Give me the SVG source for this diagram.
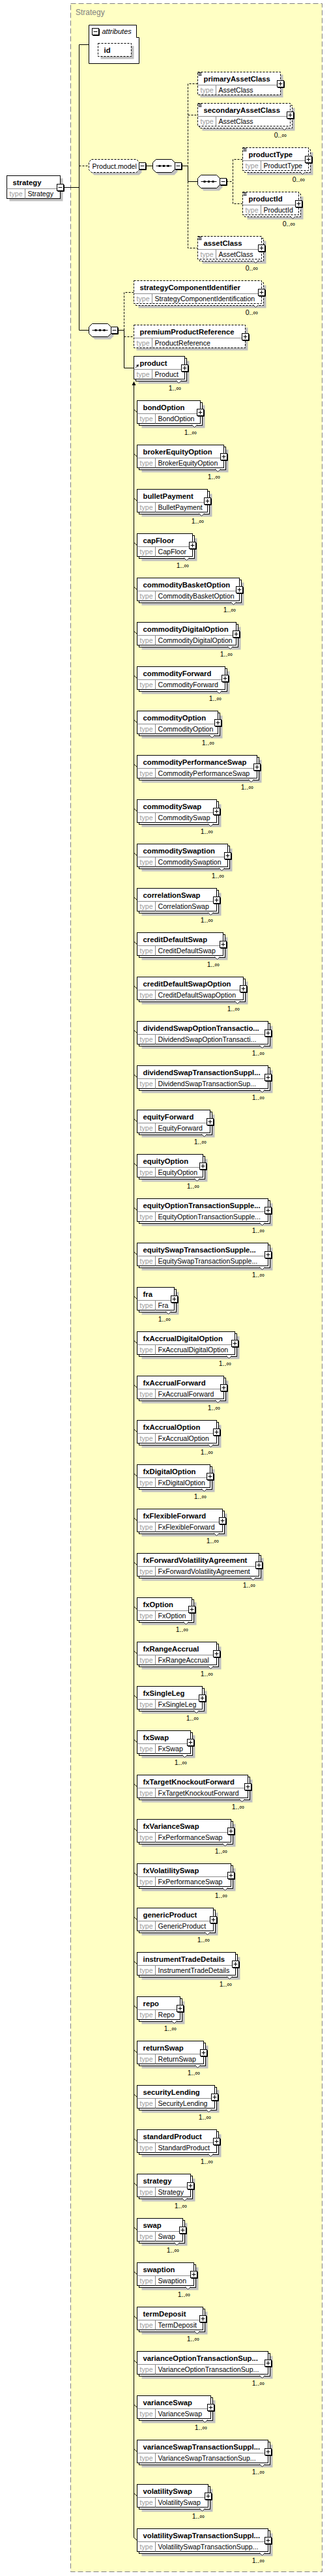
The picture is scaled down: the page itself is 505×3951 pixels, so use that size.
<svg xmlns="http://www.w3.org/2000/svg" xmlns:xlink="http://www.w3.org/1999/xlink" width="505" height="3951" viewBox="0 0 505 3951">
<style>
.bg{fill:#FFFFC4;stroke:#808080;stroke-dasharray:8,4}
.b{fill:#fff;stroke:#000}
.d{fill:#fff;stroke:#000;stroke-dasharray:3,2}
.sh{fill:#C0C0C0}
.dv{stroke:#8c8c8c;fill:none}
.ln{stroke:#000;fill:none}
.ds{stroke:#000;fill:none;stroke-dasharray:3,2}
.ic{stroke:#000;fill:none}
.v{fill:#fff;stroke:#333}
text{font-family:"Liberation Sans",Arial,sans-serif}
.n{font-weight:bold;font-size:11.3px;fill:#000}
.t{font-size:10.6px;fill:#000}
.tl{font-size:10.6px;fill:#999}
.m{font-size:10.6px;fill:#000;text-anchor:end}
.ttl{font-size:12px;fill:#808080}
.at{font-size:11px;font-style:italic;fill:#000}
</style>
<defs>
<g id="minus"><rect width="10" height="10" fill="#fff" stroke="#000"/><path d="M11,1V11H1M2,5H8" stroke="#000" fill="none"/></g>
<g id="plus"><rect width="10" height="10" fill="#fff" stroke="#000"/><path d="M11,1V11H1M2,5H8M5,2V8" stroke="#000" fill="none"/></g>
<g id="seqdots"><path d="M5,10H29" stroke="#000"/><rect x="9" y="8.5" width="3" height="3" fill="#000"/><rect x="15.5" y="8.5" width="3" height="3" fill="#000"/><rect x="22" y="8.5" width="3" height="3" fill="#000"/></g>
</defs>
<rect id="complexType" class="bg" x="108.5" y="5.5" width="386" height="3939"/>
<text class="ttl" x="116" y="23">Strategy</text>

<g id="connectors">
<path class="ln" d="M97.5,287.5H121.5M121.5,68.5V506.5M121.5,68.5H136.5M121.5,506.5H136.5"/>
<path class="ds" d="M121.5,254.5H136.5"/>
<path class="ln" d="M223.5,254.5H234.5M278.5,254.5H288.5V278.5H303.5"/>
<path class="ds" d="M303.5,128.5H288.5V254.5M288.5,278.5V380.5H303.5M288.5,176.5H303.5"/>
<path class="ds" d="M347.5,278.5H357.5M372.5,244.5H357.5V312.5H372.5"/>
<path class="ln" d="M180.5,506.5H190.5V564.5H205.5"/>
<path class="ds" d="M205.5,448.5H190.5V506.5M190.5,516.5H205.5"/>
<path class="ln" d="M205.5,590V3892.5"/>
<path d="M205.5,585L202.5,591H208.5Z" fill="#000"/>
<path class="ln" d="M206,628.5l4.5,4m-4.5,64l4.5,4m-4.5,64l4.5,4m-4.5,64l4.5,4m-4.5,64l4.5,4m-4.5,64l4.5,4m-4.5,64l4.5,4m-4.5,64l4.5,4m-4.5,64l4.5,4m-4.5,64l4.5,4m-4.5,64l4.5,4m-4.5,64l4.5,4m-4.5,64l4.5,4m-4.5,64l4.5,4m-4.5,64l4.5,4m-4.5,64l4.5,4m-4.5,64l4.5,4m-4.5,64l4.5,4m-4.5,64l4.5,4m-4.5,64l4.5,4m-4.5,64l4.5,4m-4.5,64l4.5,4m-4.5,64l4.5,4m-4.5,64l4.5,4m-4.5,64l4.5,4m-4.5,64l4.5,4m-4.5,64l4.5,4m-4.5,64l4.5,4m-4.5,64l4.5,4m-4.5,64l4.5,4m-4.5,64l4.5,4m-4.5,64l4.5,4m-4.5,64l4.5,4m-4.5,64l4.5,4m-4.5,64l4.5,4m-4.5,64l4.5,4m-4.5,64l4.5,4m-4.5,64l4.5,4m-4.5,64l4.5,4m-4.5,64l4.5,4m-4.5,64l4.5,4m-4.5,64l4.5,4m-4.5,64l4.5,4m-4.5,64l4.5,4m-4.5,64l4.5,4m-4.5,64l4.5,4m-4.5,64l4.5,4m-4.5,64l4.5,4m-4.5,64l4.5,4"/>
</g>

<g id="root-strategy" transform="translate(10.5,269.5)"><rect class="sh" x="4" y="4" width="82" height="35"/><rect class="b" width="82" height="35"/><path class="dv" d="M0,20H82M28,20V35"/><text class="n" x="9" y="14">strategy</text><text class="tl" x="4" y="31.5">type</text><text class="t" x="32" y="31.5">Strategy</text><use href="#minus" x="77" y="13"/></g>

<g id="attributes"><path class="b" d="M136.5,38.5H209.5V57.5H213.5V97.5H136.5Z"/><use href="#minus" x="141.5" y="43.5"/><text class="at" x="156.5" y="52">attributes</text>
<rect class="sh" x="154.5" y="70.5" width="51" height="20"/><rect class="d" x="150.5" y="66.5" width="51" height="20"/><text class="n" x="159.5" y="80.5">id</text></g>

<g id="group-Product.model"><path class="sh" d="M144.5,248.5H213.5L217.5,252.5V264.5L213.5,268.5H144.5L140.5,264.5V252.5Z"/><path class="d" d="M140.5,244.5H209.5L213.5,248.5V260.5L209.5,264.5H140.5L136.5,260.5V248.5Z"/><text class="t" x="141.5" y="258.5">Product.model</text><use href="#minus" x="213.5" y="249.5"/></g>

<g id="sequence-1"><path class="sh" d="M243.5,248.5H267.5L272.5,253.5V263.5L267.5,268.5H243.5L238.5,263.5V253.5Z"/><path class="b" d="M239.5,244.5H263.5L268.5,249.5V259.5L263.5,264.5H239.5L234.5,259.5V249.5Z"/><use href="#seqdots" x="234.5" y="244.5"/><use href="#minus" x="268.5" y="249.5"/></g>
<g id="sequence-2"><path class="sh" d="M312.5,272.5H336.5L341.5,277.5V287.5L336.5,292.5H312.5L307.5,287.5V277.5Z"/><path class="b" d="M308.5,268.5H332.5L337.5,273.5V283.5L332.5,288.5H308.5L303.5,283.5V273.5Z"/><use href="#seqdots" x="303.5" y="268.5"/><use href="#minus" x="337.5" y="273.5"/></g>
<g id="sequence-3"><path class="sh" d="M145.5,500.5H169.5L174.5,505.5V515.5L169.5,520.5H145.5L140.5,515.5V505.5Z"/><path class="b" d="M141.5,496.5H165.5L170.5,501.5V511.5L165.5,516.5H141.5L136.5,511.5V501.5Z"/><use href="#seqdots" x="136.5" y="496.5"/><use href="#minus" x="170.5" y="501.5"/></g>

<g id="primaryAssetClass" transform="translate(303.5,110.5)"><rect class="sh" x="4" y="4" width="127" height="35"/><rect class="d" width="127" height="35"/><path class="dv" d="M0,20H127M28,20V35"/><path class="ic" d="M1,1h5M1,3h5M1,5h5"/><text class="n" x="9" y="14">primaryAssetClass</text><text class="tl" x="4" y="31.5">type</text><text class="t" x="32" y="31.5">AssetClass</text><use href="#plus" x="122" y="13"/></g>
<g id="secondaryAssetClass" transform="translate(303.5,158.5)"><rect class="sh" x="7" y="7" width="142" height="35"/><rect class="d" x="3" y="3" width="142" height="35"/><rect class="d" width="142" height="35"/><path class="dv" d="M0,20H142M28,20V35"/><path class="ic" d="M1,1h5M1,3h5M1,5h5"/><text class="n" x="9" y="14">secondaryAssetClass</text><text class="tl" x="4" y="31.5">type</text><text class="t" x="32" y="31.5">AssetClass</text><use href="#plus" x="137" y="13"/><path class="v" d="M129,37l4,4l4,-4"/><text class="m" x="136.5" y="52">0..∞</text></g>
<g id="productType" transform="translate(372.5,226.5)"><rect class="sh" x="7" y="7" width="101" height="35"/><rect class="d" x="3" y="3" width="101" height="35"/><rect class="d" width="101" height="35"/><path class="dv" d="M0,20H101M28,20V35"/><path class="ic" d="M1,1h5M1,3h5M1,5h5"/><text class="n" x="9" y="14">productType</text><text class="tl" x="4" y="31.5">type</text><text class="t" x="32" y="31.5">ProductType</text><use href="#plus" x="96" y="13"/><path class="v" d="M88,37l4,4l4,-4"/><text class="m" x="95.5" y="52">0..∞</text></g>
<g id="productId" transform="translate(372.5,294.5)"><rect class="sh" x="7" y="7" width="86" height="35"/><rect class="d" x="3" y="3" width="86" height="35"/><rect class="d" width="86" height="35"/><path class="dv" d="M0,20H86M28,20V35"/><path class="ic" d="M1,1h5M1,3h5M1,5h5"/><text class="n" x="9" y="14">productId</text><text class="tl" x="4" y="31.5">type</text><text class="t" x="32" y="31.5">ProductId</text><use href="#plus" x="81" y="13"/><path class="v" d="M73,37l4,4l4,-4"/><text class="m" x="80.5" y="52">0..∞</text></g>
<g id="assetClass" transform="translate(303.5,362.5)"><rect class="sh" x="7" y="7" width="98" height="35"/><rect class="d" x="3" y="3" width="98" height="35"/><rect class="d" width="98" height="35"/><path class="dv" d="M0,20H98M28,20V35"/><path class="ic" d="M1,1h5M1,3h5M1,5h5"/><text class="n" x="9" y="14">assetClass</text><text class="tl" x="4" y="31.5">type</text><text class="t" x="32" y="31.5">AssetClass</text><use href="#plus" x="93" y="13"/><path class="v" d="M85,37l4,4l4,-4"/><text class="m" x="92.5" y="52">0..∞</text></g>
<g id="strategyComponentIdentifier" transform="translate(205.5,430.5)"><rect class="sh" x="7" y="7" width="196" height="35"/><rect class="d" x="3" y="3" width="196" height="35"/><rect class="d" width="196" height="35"/><path class="dv" d="M0,20H196M28,20V35"/><text class="n" x="9" y="14">strategyComponentIdentifier</text><text class="tl" x="4" y="31.5">type</text><text class="t" x="32" y="31.5">StrategyComponentIdentification</text><use href="#plus" x="191" y="13"/><path class="v" d="M183,37l4,4l4,-4"/><text class="m" x="190.5" y="52">0..∞</text></g>
<g id="premiumProductReference" transform="translate(205.5,498.5)"><rect class="sh" x="4" y="4" width="171" height="35"/><rect class="d" width="171" height="35"/><path class="dv" d="M0,20H171M28,20V35"/><text class="n" x="9" y="14">premiumProductReference</text><text class="tl" x="4" y="31.5">type</text><text class="t" x="32" y="31.5">ProductReference</text><use href="#plus" x="166" y="13"/></g>
<g id="product" transform="translate(205.5,546.5)"><rect class="sh" x="7" y="7" width="78" height="35"/><rect class="b" x="3" y="3" width="78" height="35"/><rect class="b" width="78" height="35"/><path class="dv" d="M0,20H78M28,20V35"/><path d="M2.5,17.5L5.5,14.5" stroke="#000"/><path d="M7.5,12.5L3.5,13.5L6.5,16.5Z" fill="#000"/><text class="n" x="9" y="14">product</text><text class="tl" x="4" y="31.5">type</text><text class="t" x="32" y="31.5">Product</text><use href="#plus" x="73" y="13"/><path class="v" d="M65,37l4,4l4,-4"/><text class="m" x="72.5" y="52">1..∞</text></g>

<g id="bondOption" transform="translate(210.5,614.5)"><rect class="sh" x="7" y="7" width="97" height="35"/><rect class="b" x="3" y="3" width="97" height="35"/><rect class="b" width="97" height="35"/><path class="dv" d="M0,20H97M28,20V35"/><text class="n" x="9" y="14">bondOption</text><text class="tl" x="4" y="31.5">type</text><text class="t" x="32" y="31.5">BondOption</text><use href="#plus" x="92" y="13"/><path class="v" d="M84,37l4,4l4,-4"/><text class="m" x="91.5" y="52">1..∞</text></g>
<g id="brokerEquityOption" transform="translate(210.5,682.5)"><rect class="sh" x="7" y="7" width="133" height="35"/><rect class="b" x="3" y="3" width="133" height="35"/><rect class="b" width="133" height="35"/><path class="dv" d="M0,20H133M28,20V35"/><text class="n" x="9" y="14">brokerEquityOption</text><text class="tl" x="4" y="31.5">type</text><text class="t" x="32" y="31.5">BrokerEquityOption</text><use href="#plus" x="128" y="13"/><path class="v" d="M120,37l4,4l4,-4"/><text class="m" x="127.5" y="52">1..∞</text></g>
<g id="bulletPayment" transform="translate(210.5,750.5)"><rect class="sh" x="7" y="7" width="108" height="35"/><rect class="b" x="3" y="3" width="108" height="35"/><rect class="b" width="108" height="35"/><path class="dv" d="M0,20H108M28,20V35"/><text class="n" x="9" y="14">bulletPayment</text><text class="tl" x="4" y="31.5">type</text><text class="t" x="32" y="31.5">BulletPayment</text><use href="#plus" x="103" y="13"/><path class="v" d="M95,37l4,4l4,-4"/><text class="m" x="102.5" y="52">1..∞</text></g>
<g id="capFloor" transform="translate(210.5,818.5)"><rect class="sh" x="7" y="7" width="85" height="35"/><rect class="b" x="3" y="3" width="85" height="35"/><rect class="b" width="85" height="35"/><path class="dv" d="M0,20H85M28,20V35"/><text class="n" x="9" y="14">capFloor</text><text class="tl" x="4" y="31.5">type</text><text class="t" x="32" y="31.5">CapFloor</text><use href="#plus" x="80" y="13"/><path class="v" d="M72,37l4,4l4,-4"/><text class="m" x="79.5" y="52">1..∞</text></g>
<g id="commodityBasketOption" transform="translate(210.5,886.5)"><rect class="sh" x="7" y="7" width="157" height="35"/><rect class="b" x="3" y="3" width="157" height="35"/><rect class="b" width="157" height="35"/><path class="dv" d="M0,20H157M28,20V35"/><text class="n" x="9" y="14">commodityBasketOption</text><text class="tl" x="4" y="31.5">type</text><text class="t" x="32" y="31.5">CommodityBasketOption</text><use href="#plus" x="152" y="13"/><path class="v" d="M144,37l4,4l4,-4"/><text class="m" x="151.5" y="52">1..∞</text></g>
<g id="commodityDigitalOption" transform="translate(210.5,954.5)"><rect class="sh" x="7" y="7" width="152" height="35"/><rect class="b" x="3" y="3" width="152" height="35"/><rect class="b" width="152" height="35"/><path class="dv" d="M0,20H152M28,20V35"/><text class="n" x="9" y="14">commodityDigitalOption</text><text class="tl" x="4" y="31.5">type</text><text class="t" x="32" y="31.5">CommodityDigitalOption</text><use href="#plus" x="147" y="13"/><path class="v" d="M139,37l4,4l4,-4"/><text class="m" x="146.5" y="52">1..∞</text></g>
<g id="commodityForward" transform="translate(210.5,1022.5)"><rect class="sh" x="7" y="7" width="135" height="35"/><rect class="b" x="3" y="3" width="135" height="35"/><rect class="b" width="135" height="35"/><path class="dv" d="M0,20H135M28,20V35"/><text class="n" x="9" y="14">commodityForward</text><text class="tl" x="4" y="31.5">type</text><text class="t" x="32" y="31.5">CommodityForward</text><use href="#plus" x="130" y="13"/><path class="v" d="M122,37l4,4l4,-4"/><text class="m" x="129.5" y="52">1..∞</text></g>
<g id="commodityOption" transform="translate(210.5,1090.5)"><rect class="sh" x="7" y="7" width="124" height="35"/><rect class="b" x="3" y="3" width="124" height="35"/><rect class="b" width="124" height="35"/><path class="dv" d="M0,20H124M28,20V35"/><text class="n" x="9" y="14">commodityOption</text><text class="tl" x="4" y="31.5">type</text><text class="t" x="32" y="31.5">CommodityOption</text><use href="#plus" x="119" y="13"/><path class="v" d="M111,37l4,4l4,-4"/><text class="m" x="118.5" y="52">1..∞</text></g>
<g id="commodityPerformanceSwap" transform="translate(210.5,1158.5)"><rect class="sh" x="7" y="7" width="184" height="35"/><rect class="b" x="3" y="3" width="184" height="35"/><rect class="b" width="184" height="35"/><path class="dv" d="M0,20H184M28,20V35"/><text class="n" x="9" y="14">commodityPerformanceSwap</text><text class="tl" x="4" y="31.5">type</text><text class="t" x="32" y="31.5">CommodityPerformanceSwap</text><use href="#plus" x="179" y="13"/><path class="v" d="M171,37l4,4l4,-4"/><text class="m" x="178.5" y="52">1..∞</text></g>
<g id="commoditySwap" transform="translate(210.5,1226.5)"><rect class="sh" x="7" y="7" width="122" height="35"/><rect class="b" x="3" y="3" width="122" height="35"/><rect class="b" width="122" height="35"/><path class="dv" d="M0,20H122M28,20V35"/><text class="n" x="9" y="14">commoditySwap</text><text class="tl" x="4" y="31.5">type</text><text class="t" x="32" y="31.5">CommoditySwap</text><use href="#plus" x="117" y="13"/><path class="v" d="M109,37l4,4l4,-4"/><text class="m" x="116.5" y="52">1..∞</text></g>
<g id="commoditySwaption" transform="translate(210.5,1294.5)"><rect class="sh" x="7" y="7" width="139" height="35"/><rect class="b" x="3" y="3" width="139" height="35"/><rect class="b" width="139" height="35"/><path class="dv" d="M0,20H139M28,20V35"/><text class="n" x="9" y="14">commoditySwaption</text><text class="tl" x="4" y="31.5">type</text><text class="t" x="32" y="31.5">CommoditySwaption</text><use href="#plus" x="134" y="13"/><path class="v" d="M126,37l4,4l4,-4"/><text class="m" x="133.5" y="52">1..∞</text></g>
<g id="correlationSwap" transform="translate(210.5,1362.5)"><rect class="sh" x="7" y="7" width="122" height="35"/><rect class="b" x="3" y="3" width="122" height="35"/><rect class="b" width="122" height="35"/><path class="dv" d="M0,20H122M28,20V35"/><text class="n" x="9" y="14">correlationSwap</text><text class="tl" x="4" y="31.5">type</text><text class="t" x="32" y="31.5">CorrelationSwap</text><use href="#plus" x="117" y="13"/><path class="v" d="M109,37l4,4l4,-4"/><text class="m" x="116.5" y="52">1..∞</text></g>
<g id="creditDefaultSwap" transform="translate(210.5,1430.5)"><rect class="sh" x="7" y="7" width="132" height="35"/><rect class="b" x="3" y="3" width="132" height="35"/><rect class="b" width="132" height="35"/><path class="dv" d="M0,20H132M28,20V35"/><text class="n" x="9" y="14">creditDefaultSwap</text><text class="tl" x="4" y="31.5">type</text><text class="t" x="32" y="31.5">CreditDefaultSwap</text><use href="#plus" x="127" y="13"/><path class="v" d="M119,37l4,4l4,-4"/><text class="m" x="126.5" y="52">1..∞</text></g>
<g id="creditDefaultSwapOption" transform="translate(210.5,1498.5)"><rect class="sh" x="7" y="7" width="163" height="35"/><rect class="b" x="3" y="3" width="163" height="35"/><rect class="b" width="163" height="35"/><path class="dv" d="M0,20H163M28,20V35"/><text class="n" x="9" y="14">creditDefaultSwapOption</text><text class="tl" x="4" y="31.5">type</text><text class="t" x="32" y="31.5">CreditDefaultSwapOption</text><use href="#plus" x="158" y="13"/><path class="v" d="M150,37l4,4l4,-4"/><text class="m" x="157.5" y="52">1..∞</text></g>
<g id="dividendSwapOptionTransactionSupplement" transform="translate(210.5,1566.5)"><rect class="sh" x="7" y="7" width="201" height="35"/><rect class="b" x="3" y="3" width="201" height="35"/><rect class="b" width="201" height="35"/><path class="dv" d="M0,20H201M28,20V35"/><text class="n" x="9" y="14">dividendSwapOptionTransactio...</text><text class="tl" x="4" y="31.5">type</text><text class="t" x="32" y="31.5">DividendSwapOptionTransacti...</text><use href="#plus" x="196" y="13"/><path class="v" d="M188,37l4,4l4,-4"/><text class="m" x="195.5" y="52">1..∞</text></g>
<g id="dividendSwapTransactionSupplement" transform="translate(210.5,1634.5)"><rect class="sh" x="7" y="7" width="201" height="35"/><rect class="b" x="3" y="3" width="201" height="35"/><rect class="b" width="201" height="35"/><path class="dv" d="M0,20H201M28,20V35"/><text class="n" x="9" y="14">dividendSwapTransactionSuppl...</text><text class="tl" x="4" y="31.5">type</text><text class="t" x="32" y="31.5">DividendSwapTransactionSup...</text><use href="#plus" x="196" y="13"/><path class="v" d="M188,37l4,4l4,-4"/><text class="m" x="195.5" y="52">1..∞</text></g>
<g id="equityForward" transform="translate(210.5,1702.5)"><rect class="sh" x="7" y="7" width="112" height="35"/><rect class="b" x="3" y="3" width="112" height="35"/><rect class="b" width="112" height="35"/><path class="dv" d="M0,20H112M28,20V35"/><text class="n" x="9" y="14">equityForward</text><text class="tl" x="4" y="31.5">type</text><text class="t" x="32" y="31.5">EquityForward</text><use href="#plus" x="107" y="13"/><path class="v" d="M99,37l4,4l4,-4"/><text class="m" x="106.5" y="52">1..∞</text></g>
<g id="equityOption" transform="translate(210.5,1770.5)"><rect class="sh" x="7" y="7" width="101" height="35"/><rect class="b" x="3" y="3" width="101" height="35"/><rect class="b" width="101" height="35"/><path class="dv" d="M0,20H101M28,20V35"/><text class="n" x="9" y="14">equityOption</text><text class="tl" x="4" y="31.5">type</text><text class="t" x="32" y="31.5">EquityOption</text><use href="#plus" x="96" y="13"/><path class="v" d="M88,37l4,4l4,-4"/><text class="m" x="95.5" y="52">1..∞</text></g>
<g id="equityOptionTransactionSupplement" transform="translate(210.5,1838.5)"><rect class="sh" x="7" y="7" width="201" height="35"/><rect class="b" x="3" y="3" width="201" height="35"/><rect class="b" width="201" height="35"/><path class="dv" d="M0,20H201M28,20V35"/><text class="n" x="9" y="14">equityOptionTransactionSupple...</text><text class="tl" x="4" y="31.5">type</text><text class="t" x="32" y="31.5">EquityOptionTransactionSupple...</text><use href="#plus" x="196" y="13"/><path class="v" d="M188,37l4,4l4,-4"/><text class="m" x="195.5" y="52">1..∞</text></g>
<g id="equitySwapTransactionSupplement" transform="translate(210.5,1906.5)"><rect class="sh" x="7" y="7" width="201" height="35"/><rect class="b" x="3" y="3" width="201" height="35"/><rect class="b" width="201" height="35"/><path class="dv" d="M0,20H201M28,20V35"/><text class="n" x="9" y="14">equitySwapTransactionSupple...</text><text class="tl" x="4" y="31.5">type</text><text class="t" x="32" y="31.5">EquitySwapTransactionSupple...</text><use href="#plus" x="196" y="13"/><path class="v" d="M188,37l4,4l4,-4"/><text class="m" x="195.5" y="52">1..∞</text></g>
<g id="fra" transform="translate(210.5,1974.5)"><rect class="sh" x="7" y="7" width="57" height="35"/><rect class="b" x="3" y="3" width="57" height="35"/><rect class="b" width="57" height="35"/><path class="dv" d="M0,20H57M28,20V35"/><text class="n" x="9" y="14">fra</text><text class="tl" x="4" y="31.5">type</text><text class="t" x="32" y="31.5">Fra</text><use href="#plus" x="52" y="13"/><path class="v" d="M44,37l4,4l4,-4"/><text class="m" x="51.5" y="52">1..∞</text></g>
<g id="fxAccrualDigitalOption" transform="translate(210.5,2042.5)"><rect class="sh" x="7" y="7" width="150" height="35"/><rect class="b" x="3" y="3" width="150" height="35"/><rect class="b" width="150" height="35"/><path class="dv" d="M0,20H150M28,20V35"/><text class="n" x="9" y="14">fxAccrualDigitalOption</text><text class="tl" x="4" y="31.5">type</text><text class="t" x="32" y="31.5">FxAccrualDigitalOption</text><use href="#plus" x="145" y="13"/><path class="v" d="M137,37l4,4l4,-4"/><text class="m" x="144.5" y="52">1..∞</text></g>
<g id="fxAccrualForward" transform="translate(210.5,2110.5)"><rect class="sh" x="7" y="7" width="133" height="35"/><rect class="b" x="3" y="3" width="133" height="35"/><rect class="b" width="133" height="35"/><path class="dv" d="M0,20H133M28,20V35"/><text class="n" x="9" y="14">fxAccrualForward</text><text class="tl" x="4" y="31.5">type</text><text class="t" x="32" y="31.5">FxAccrualForward</text><use href="#plus" x="128" y="13"/><path class="v" d="M120,37l4,4l4,-4"/><text class="m" x="127.5" y="52">1..∞</text></g>
<g id="fxAccrualOption" transform="translate(210.5,2178.5)"><rect class="sh" x="7" y="7" width="122" height="35"/><rect class="b" x="3" y="3" width="122" height="35"/><rect class="b" width="122" height="35"/><path class="dv" d="M0,20H122M28,20V35"/><text class="n" x="9" y="14">fxAccrualOption</text><text class="tl" x="4" y="31.5">type</text><text class="t" x="32" y="31.5">FxAccrualOption</text><use href="#plus" x="117" y="13"/><path class="v" d="M109,37l4,4l4,-4"/><text class="m" x="116.5" y="52">1..∞</text></g>
<g id="fxDigitalOption" transform="translate(210.5,2246.5)"><rect class="sh" x="7" y="7" width="112" height="35"/><rect class="b" x="3" y="3" width="112" height="35"/><rect class="b" width="112" height="35"/><path class="dv" d="M0,20H112M28,20V35"/><text class="n" x="9" y="14">fxDigitalOption</text><text class="tl" x="4" y="31.5">type</text><text class="t" x="32" y="31.5">FxDigitalOption</text><use href="#plus" x="107" y="13"/><path class="v" d="M99,37l4,4l4,-4"/><text class="m" x="106.5" y="52">1..∞</text></g>
<g id="fxFlexibleForward" transform="translate(210.5,2314.5)"><rect class="sh" x="7" y="7" width="131" height="35"/><rect class="b" x="3" y="3" width="131" height="35"/><rect class="b" width="131" height="35"/><path class="dv" d="M0,20H131M28,20V35"/><text class="n" x="9" y="14">fxFlexibleForward</text><text class="tl" x="4" y="31.5">type</text><text class="t" x="32" y="31.5">FxFlexibleForward</text><use href="#plus" x="126" y="13"/><path class="v" d="M118,37l4,4l4,-4"/><text class="m" x="125.5" y="52">1..∞</text></g>
<g id="fxForwardVolatilityAgreement" transform="translate(210.5,2382.5)"><rect class="sh" x="7" y="7" width="187" height="35"/><rect class="b" x="3" y="3" width="187" height="35"/><rect class="b" width="187" height="35"/><path class="dv" d="M0,20H187M28,20V35"/><text class="n" x="9" y="14">fxForwardVolatilityAgreement</text><text class="tl" x="4" y="31.5">type</text><text class="t" x="32" y="31.5">FxForwardVolatilityAgreement</text><use href="#plus" x="182" y="13"/><path class="v" d="M174,37l4,4l4,-4"/><text class="m" x="181.5" y="52">1..∞</text></g>
<g id="fxOption" transform="translate(210.5,2450.5)"><rect class="sh" x="7" y="7" width="84" height="35"/><rect class="b" x="3" y="3" width="84" height="35"/><rect class="b" width="84" height="35"/><path class="dv" d="M0,20H84M28,20V35"/><text class="n" x="9" y="14">fxOption</text><text class="tl" x="4" y="31.5">type</text><text class="t" x="32" y="31.5">FxOption</text><use href="#plus" x="79" y="13"/><path class="v" d="M71,37l4,4l4,-4"/><text class="m" x="78.5" y="52">1..∞</text></g>
<g id="fxRangeAccrual" transform="translate(210.5,2518.5)"><rect class="sh" x="7" y="7" width="122" height="35"/><rect class="b" x="3" y="3" width="122" height="35"/><rect class="b" width="122" height="35"/><path class="dv" d="M0,20H122M28,20V35"/><text class="n" x="9" y="14">fxRangeAccrual</text><text class="tl" x="4" y="31.5">type</text><text class="t" x="32" y="31.5">FxRangeAccrual</text><use href="#plus" x="117" y="13"/><path class="v" d="M109,37l4,4l4,-4"/><text class="m" x="116.5" y="52">1..∞</text></g>
<g id="fxSingleLeg" transform="translate(210.5,2586.5)"><rect class="sh" x="7" y="7" width="100" height="35"/><rect class="b" x="3" y="3" width="100" height="35"/><rect class="b" width="100" height="35"/><path class="dv" d="M0,20H100M28,20V35"/><text class="n" x="9" y="14">fxSingleLeg</text><text class="tl" x="4" y="31.5">type</text><text class="t" x="32" y="31.5">FxSingleLeg</text><use href="#plus" x="95" y="13"/><path class="v" d="M87,37l4,4l4,-4"/><text class="m" x="94.5" y="52">1..∞</text></g>
<g id="fxSwap" transform="translate(210.5,2654.5)"><rect class="sh" x="7" y="7" width="82" height="35"/><rect class="b" x="3" y="3" width="82" height="35"/><rect class="b" width="82" height="35"/><path class="dv" d="M0,20H82M28,20V35"/><text class="n" x="9" y="14">fxSwap</text><text class="tl" x="4" y="31.5">type</text><text class="t" x="32" y="31.5">FxSwap</text><use href="#plus" x="77" y="13"/><path class="v" d="M69,37l4,4l4,-4"/><text class="m" x="76.5" y="52">1..∞</text></g>
<g id="fxTargetKnockoutForward" transform="translate(210.5,2722.5)"><rect class="sh" x="7" y="7" width="170" height="35"/><rect class="b" x="3" y="3" width="170" height="35"/><rect class="b" width="170" height="35"/><path class="dv" d="M0,20H170M28,20V35"/><text class="n" x="9" y="14">fxTargetKnockoutForward</text><text class="tl" x="4" y="31.5">type</text><text class="t" x="32" y="31.5">FxTargetKnockoutForward</text><use href="#plus" x="165" y="13"/><path class="v" d="M157,37l4,4l4,-4"/><text class="m" x="164.5" y="52">1..∞</text></g>
<g id="fxVarianceSwap" transform="translate(210.5,2790.5)"><rect class="sh" x="7" y="7" width="144" height="35"/><rect class="b" x="3" y="3" width="144" height="35"/><rect class="b" width="144" height="35"/><path class="dv" d="M0,20H144M28,20V35"/><text class="n" x="9" y="14">fxVarianceSwap</text><text class="tl" x="4" y="31.5">type</text><text class="t" x="32" y="31.5">FxPerformanceSwap</text><use href="#plus" x="139" y="13"/><path class="v" d="M131,37l4,4l4,-4"/><text class="m" x="138.5" y="52">1..∞</text></g>
<g id="fxVolatilitySwap" transform="translate(210.5,2858.5)"><rect class="sh" x="7" y="7" width="144" height="35"/><rect class="b" x="3" y="3" width="144" height="35"/><rect class="b" width="144" height="35"/><path class="dv" d="M0,20H144M28,20V35"/><text class="n" x="9" y="14">fxVolatilitySwap</text><text class="tl" x="4" y="31.5">type</text><text class="t" x="32" y="31.5">FxPerformanceSwap</text><use href="#plus" x="139" y="13"/><path class="v" d="M131,37l4,4l4,-4"/><text class="m" x="138.5" y="52">1..∞</text></g>
<g id="genericProduct" transform="translate(210.5,2926.5)"><rect class="sh" x="7" y="7" width="117" height="35"/><rect class="b" x="3" y="3" width="117" height="35"/><rect class="b" width="117" height="35"/><path class="dv" d="M0,20H117M28,20V35"/><text class="n" x="9" y="14">genericProduct</text><text class="tl" x="4" y="31.5">type</text><text class="t" x="32" y="31.5">GenericProduct</text><use href="#plus" x="112" y="13"/><path class="v" d="M104,37l4,4l4,-4"/><text class="m" x="111.5" y="52">1..∞</text></g>
<g id="instrumentTradeDetails" transform="translate(210.5,2994.5)"><rect class="sh" x="7" y="7" width="151" height="35"/><rect class="b" x="3" y="3" width="151" height="35"/><rect class="b" width="151" height="35"/><path class="dv" d="M0,20H151M28,20V35"/><text class="n" x="9" y="14">instrumentTradeDetails</text><text class="tl" x="4" y="31.5">type</text><text class="t" x="32" y="31.5">InstrumentTradeDetails</text><use href="#plus" x="146" y="13"/><path class="v" d="M138,37l4,4l4,-4"/><text class="m" x="145.5" y="52">1..∞</text></g>
<g id="repo" transform="translate(210.5,3062.5)"><rect class="sh" x="7" y="7" width="66" height="35"/><rect class="b" x="3" y="3" width="66" height="35"/><rect class="b" width="66" height="35"/><path class="dv" d="M0,20H66M28,20V35"/><text class="n" x="9" y="14">repo</text><text class="tl" x="4" y="31.5">type</text><text class="t" x="32" y="31.5">Repo</text><use href="#plus" x="61" y="13"/><path class="v" d="M53,37l4,4l4,-4"/><text class="m" x="60.5" y="52">1..∞</text></g>
<g id="returnSwap" transform="translate(210.5,3130.5)"><rect class="sh" x="7" y="7" width="102" height="35"/><rect class="b" x="3" y="3" width="102" height="35"/><rect class="b" width="102" height="35"/><path class="dv" d="M0,20H102M28,20V35"/><text class="n" x="9" y="14">returnSwap</text><text class="tl" x="4" y="31.5">type</text><text class="t" x="32" y="31.5">ReturnSwap</text><use href="#plus" x="97" y="13"/><path class="v" d="M89,37l4,4l4,-4"/><text class="m" x="96.5" y="52">1..∞</text></g>
<g id="securityLending" transform="translate(210.5,3198.5)"><rect class="sh" x="7" y="7" width="119" height="35"/><rect class="b" x="3" y="3" width="119" height="35"/><rect class="b" width="119" height="35"/><path class="dv" d="M0,20H119M28,20V35"/><text class="n" x="9" y="14">securityLending</text><text class="tl" x="4" y="31.5">type</text><text class="t" x="32" y="31.5">SecurityLending</text><use href="#plus" x="114" y="13"/><path class="v" d="M106,37l4,4l4,-4"/><text class="m" x="113.5" y="52">1..∞</text></g>
<g id="standardProduct" transform="translate(210.5,3266.5)"><rect class="sh" x="7" y="7" width="122" height="35"/><rect class="b" x="3" y="3" width="122" height="35"/><rect class="b" width="122" height="35"/><path class="dv" d="M0,20H122M28,20V35"/><text class="n" x="9" y="14">standardProduct</text><text class="tl" x="4" y="31.5">type</text><text class="t" x="32" y="31.5">StandardProduct</text><use href="#plus" x="117" y="13"/><path class="v" d="M109,37l4,4l4,-4"/><text class="m" x="116.5" y="52">1..∞</text></g>
<g id="sub-strategy" transform="translate(210.5,3334.5)"><rect class="sh" x="7" y="7" width="82" height="35"/><rect class="b" x="3" y="3" width="82" height="35"/><rect class="b" width="82" height="35"/><path class="dv" d="M0,20H82M28,20V35"/><text class="n" x="9" y="14">strategy</text><text class="tl" x="4" y="31.5">type</text><text class="t" x="32" y="31.5">Strategy</text><use href="#plus" x="77" y="13"/><path class="v" d="M69,37l4,4l4,-4"/><text class="m" x="76.5" y="52">1..∞</text></g>
<g id="swap" transform="translate(210.5,3402.5)"><rect class="sh" x="7" y="7" width="70" height="35"/><rect class="b" x="3" y="3" width="70" height="35"/><rect class="b" width="70" height="35"/><path class="dv" d="M0,20H70M28,20V35"/><text class="n" x="9" y="14">swap</text><text class="tl" x="4" y="31.5">type</text><text class="t" x="32" y="31.5">Swap</text><use href="#plus" x="65" y="13"/><path class="v" d="M57,37l4,4l4,-4"/><text class="m" x="64.5" y="52">1..∞</text></g>
<g id="swaption" transform="translate(210.5,3470.5)"><rect class="sh" x="7" y="7" width="87" height="35"/><rect class="b" x="3" y="3" width="87" height="35"/><rect class="b" width="87" height="35"/><path class="dv" d="M0,20H87M28,20V35"/><text class="n" x="9" y="14">swaption</text><text class="tl" x="4" y="31.5">type</text><text class="t" x="32" y="31.5">Swaption</text><use href="#plus" x="82" y="13"/><path class="v" d="M74,37l4,4l4,-4"/><text class="m" x="81.5" y="52">1..∞</text></g>
<g id="termDeposit" transform="translate(210.5,3538.5)"><rect class="sh" x="7" y="7" width="101" height="35"/><rect class="b" x="3" y="3" width="101" height="35"/><rect class="b" width="101" height="35"/><path class="dv" d="M0,20H101M28,20V35"/><text class="n" x="9" y="14">termDeposit</text><text class="tl" x="4" y="31.5">type</text><text class="t" x="32" y="31.5">TermDeposit</text><use href="#plus" x="96" y="13"/><path class="v" d="M88,37l4,4l4,-4"/><text class="m" x="95.5" y="52">1..∞</text></g>
<g id="varianceOptionTransactionSupplement" transform="translate(210.5,3606.5)"><rect class="sh" x="7" y="7" width="201" height="35"/><rect class="b" x="3" y="3" width="201" height="35"/><rect class="b" width="201" height="35"/><path class="dv" d="M0,20H201M28,20V35"/><text class="n" x="9" y="14">varianceOptionTransactionSup...</text><text class="tl" x="4" y="31.5">type</text><text class="t" x="32" y="31.5">VarianceOptionTransactionSup...</text><use href="#plus" x="196" y="13"/><path class="v" d="M188,37l4,4l4,-4"/><text class="m" x="195.5" y="52">1..∞</text></g>
<g id="varianceSwap" transform="translate(210.5,3674.5)"><rect class="sh" x="7" y="7" width="113" height="35"/><rect class="b" x="3" y="3" width="113" height="35"/><rect class="b" width="113" height="35"/><path class="dv" d="M0,20H113M28,20V35"/><text class="n" x="9" y="14">varianceSwap</text><text class="tl" x="4" y="31.5">type</text><text class="t" x="32" y="31.5">VarianceSwap</text><use href="#plus" x="108" y="13"/><path class="v" d="M100,37l4,4l4,-4"/><text class="m" x="107.5" y="52">1..∞</text></g>
<g id="varianceSwapTransactionSupplement" transform="translate(210.5,3742.5)"><rect class="sh" x="7" y="7" width="201" height="35"/><rect class="b" x="3" y="3" width="201" height="35"/><rect class="b" width="201" height="35"/><path class="dv" d="M0,20H201M28,20V35"/><text class="n" x="9" y="14">varianceSwapTransactionSuppl...</text><text class="tl" x="4" y="31.5">type</text><text class="t" x="32" y="31.5">VarianceSwapTransactionSup...</text><use href="#plus" x="196" y="13"/><path class="v" d="M188,37l4,4l4,-4"/><text class="m" x="195.5" y="52">1..∞</text></g>
<g id="volatilitySwap" transform="translate(210.5,3810.5)"><rect class="sh" x="7" y="7" width="109" height="35"/><rect class="b" x="3" y="3" width="109" height="35"/><rect class="b" width="109" height="35"/><path class="dv" d="M0,20H109M28,20V35"/><text class="n" x="9" y="14">volatilitySwap</text><text class="tl" x="4" y="31.5">type</text><text class="t" x="32" y="31.5">VolatilitySwap</text><use href="#plus" x="104" y="13"/><path class="v" d="M96,37l4,4l4,-4"/><text class="m" x="103.5" y="52">1..∞</text></g>
<g id="volatilitySwapTransactionSupplement" transform="translate(210.5,3878.5)"><rect class="sh" x="7" y="7" width="201" height="35"/><rect class="b" x="3" y="3" width="201" height="35"/><rect class="b" width="201" height="35"/><path class="dv" d="M0,20H201M28,20V35"/><text class="n" x="9" y="14">volatilitySwapTransactionSuppl...</text><text class="tl" x="4" y="31.5">type</text><text class="t" x="32" y="31.5">VolatilitySwapTransactionSupp...</text><use href="#plus" x="196" y="13"/><path class="v" d="M188,37l4,4l4,-4"/><text class="m" x="195.5" y="52">1..∞</text></g>
</svg>
